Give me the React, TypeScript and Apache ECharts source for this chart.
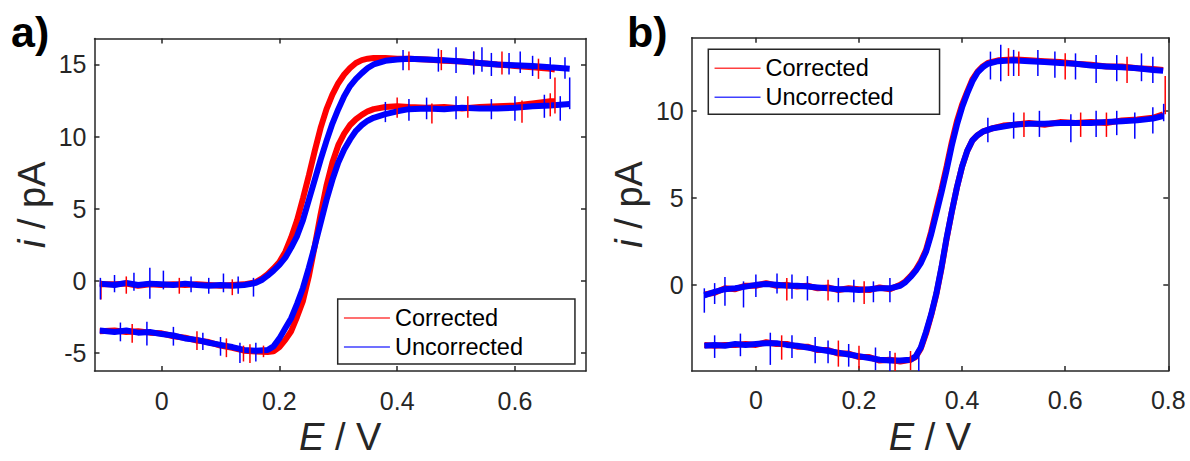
import React, { useEffect, useRef } from 'react';
import * as echarts from 'echarts';

// ---------------- Panel a ----------------
const aXTicks = [0, 0.2, 0.4, 0.6];
const aYTicks = [-5, 0, 5, 10, 15];

const aLowE = [-0.105, -0.08, -0.06, -0.04, -0.02, 0, 0.02, 0.04, 0.06, 0.08, 0.1, 0.12, 0.14, 0.16, 0.18, 0.19, 0.2, 0.21, 0.22, 0.23, 0.24, 0.25, 0.26, 0.27, 0.28, 0.29, 0.3, 0.31, 0.32, 0.33, 0.34, 0.35, 0.36, 0.38, 0.4, 0.42, 0.45, 0.48, 0.51, 0.54, 0.57, 0.6, 0.63, 0.66];
const aLowUncorrected = [-3.45, -3.55, -3.45, -3.6, -3.55, -3.7, -3.8, -4.0, -4.1, -4.3, -4.45, -4.6, -4.8, -4.85, -4.8, -4.55, -4.0, -3.3, -2.6, -1.6, -0.5, 0.9, 2.4, 4.0, 5.6, 7.0, 8.2, 9.1, 9.8, 10.4, 10.8, 11.1, 11.3, 11.55, 11.75, 11.9, 11.95, 11.9, 12.0, 11.95, 11.95, 12.0, 12.1, 12.15];
const aLowCorrected = [-3.5, -3.45, -3.55, -3.5, -3.6, -3.65, -3.85, -3.95, -4.15, -4.25, -4.5, -4.65, -4.85, -4.9, -4.95, -4.9, -4.6, -4.1, -3.5, -2.5, -1.4, 0.3, 2.4, 4.6, 6.6, 8.2, 9.4, 10.2, 10.8, 11.2, 11.5, 11.75, 11.9, 12.05, 12.1, 12.05, 12.0, 12.05, 11.95, 12.05, 12.1, 12.15, 12.3, 12.45];

const aUpE = [-0.105, -0.08, -0.06, -0.04, -0.02, 0, 0.02, 0.04, 0.06, 0.08, 0.1, 0.12, 0.14, 0.16, 0.17, 0.18, 0.19, 0.2, 0.21, 0.22, 0.23, 0.24, 0.25, 0.26, 0.27, 0.28, 0.29, 0.3, 0.31, 0.32, 0.33, 0.34, 0.35, 0.36, 0.38, 0.4, 0.42, 0.45, 0.48, 0.51, 0.54, 0.57, 0.6, 0.63, 0.66];
const aUpUncorrected = [-0.2, -0.3, -0.15, -0.3, -0.2, -0.25, -0.3, -0.2, -0.3, -0.35, -0.3, -0.35, -0.3, -0.15, 0.05, 0.35, 0.7, 1.1, 1.6, 2.3, 3.1, 4.2, 5.6, 7.0, 8.4, 9.7, 10.9, 11.9, 12.8, 13.5, 14.0, 14.4, 14.75, 15.0, 15.25, 15.35, 15.4, 15.35, 15.3, 15.2, 15.1, 15.0, 14.95, 14.9, 14.8];
const aUpCorrected = [-0.25, -0.25, -0.2, -0.35, -0.25, -0.3, -0.25, -0.3, -0.25, -0.3, -0.35, -0.3, -0.25, -0.1, 0.15, 0.45, 0.85, 1.3, 2.0, 3.0, 4.2, 5.7, 7.3, 9.0, 10.6, 11.9, 12.9, 13.7, 14.3, 14.75, 15.1, 15.3, 15.4, 15.45, 15.45, 15.4, 15.4, 15.35, 15.25, 15.2, 15.1, 15.0, 14.9, 14.8, 14.7];

// right-end points of each branch (scan turn)
const aEndUncorrected = [[0.693, 12.25], [0.693, 14.7]];
const aEndCorrected = [[0.668, 12.45], [0.668, 14.65]];

// noise spikes and turn segments: [E, low, high]
const aSpikesUncorrected = [
  [-0.104, -1.3, 0.2], [-0.08, -0.8, 0.4], [-0.047, -0.7, 0.55], [-0.02, -1.25, 0.9], [0.003, -0.6, 0.7], [0.05, -0.8, 0.3], [0.08, -0.9, 0.2], [0.105, -0.8, 0.5], [0.13, -0.9, 0.3], [0.156, -1.1, 0.2],
  [-0.07, -4.2, -2.9], [-0.025, -4.5, -2.85], [0.02, -4.5, -3.2], [0.07, -4.8, -3.6], [0.1, -5.2, -3.9], [0.133, -5.7, -4.3], [0.16, -5.6, -4.3],
  [0.41, 14.6, 16.0], [0.47, 14.5, 16.1], [0.5, 14.4, 16.2], [0.53, 14.3, 15.9], [0.544, 14.5, 16.2], [0.56, 14.2, 15.8], [0.59, 14.3, 15.8], [0.609, 14.4, 15.9], [0.63, 14.2, 15.6], [0.66, 14.0, 15.5], [0.685, 14.0, 15.5],
  [0.38, 11.0, 12.4], [0.42, 11.1, 12.6], [0.45, 11.2, 12.7], [0.5, 11.2, 12.8], [0.56, 11.2, 12.6], [0.6, 11.1, 12.8], [0.65, 11.3, 12.9], [0.677, 11.1, 12.8],
  [0.693, 11.9, 14.1],
];
const aSpikesCorrected = [
  [-0.103, -1.3, 0.0], [-0.06, -0.9, 0.3], [0.03, -0.9, 0.2], [0.12, -1.0, 0.1],
  [-0.05, -4.3, -3.0], [0.06, -4.8, -3.5], [0.11, -5.3, -4.0], [0.139, -5.6, -4.5], [0.15, -5.7, -4.4], [0.173, -5.3, -4.5],
  [0.42, 14.6, 15.9], [0.475, 14.6, 16.0], [0.53, 14.4, 15.9], [0.578, 14.3, 15.9], [0.64, 14.0, 15.4],
  [0.4, 11.3, 12.7], [0.459, 10.9, 12.3], [0.52, 11.3, 12.8], [0.612, 10.95, 12.5], [0.66, 11.4, 13.0],
  [0.668, 11.6, 14.1],
];

// ---------------- Panel b ----------------
const bXTicks = [0, 0.2, 0.4, 0.6, 0.8];
const bYTicks = [0, 5, 10];

const bLowE = [-0.1, -0.08, -0.06, -0.04, -0.02, 0, 0.02, 0.04, 0.06, 0.08, 0.1, 0.12, 0.14, 0.16, 0.18, 0.2, 0.22, 0.24, 0.26, 0.28, 0.3, 0.31, 0.32, 0.33, 0.34, 0.35, 0.36, 0.37, 0.38, 0.39, 0.4, 0.41, 0.42, 0.43, 0.44, 0.46, 0.48, 0.5, 0.53, 0.56, 0.59, 0.62, 0.65, 0.68, 0.71, 0.74, 0.77, 0.79];
const bLowUncorrected = [-3.5, -3.45, -3.5, -3.4, -3.45, -3.4, -3.35, -3.35, -3.45, -3.5, -3.6, -3.7, -3.8, -3.9, -4.0, -4.1, -4.2, -4.3, -4.35, -4.35, -4.3, -4.1, -3.6, -2.7, -1.7, -0.5, 1.0, 2.7, 4.2, 5.6, 6.8, 7.7, 8.3, 8.6, 8.8, 9.0, 9.1, 9.2, 9.25, 9.25, 9.3, 9.3, 9.3, 9.35, 9.4, 9.45, 9.55, 9.7];
const bLowCorrected = [-3.45, -3.5, -3.45, -3.45, -3.4, -3.45, -3.3, -3.4, -3.4, -3.55, -3.55, -3.75, -3.75, -3.95, -3.95, -4.15, -4.15, -4.35, -4.3, -4.4, -4.3, -4.15, -3.65, -2.8, -1.75, -0.55, 0.95, 2.65, 4.2, 5.6, 6.8, 7.7, 8.3, 8.6, 8.8, 9.0, 9.15, 9.2, 9.3, 9.2, 9.35, 9.3, 9.35, 9.3, 9.45, 9.5, 9.6, 9.8];

const bUpE = [-0.1, -0.08, -0.06, -0.04, -0.02, 0, 0.02, 0.04, 0.06, 0.08, 0.1, 0.12, 0.14, 0.16, 0.18, 0.2, 0.22, 0.24, 0.26, 0.28, 0.29, 0.3, 0.31, 0.32, 0.33, 0.34, 0.35, 0.36, 0.37, 0.38, 0.39, 0.4, 0.41, 0.42, 0.43, 0.44, 0.45, 0.47, 0.5, 0.53, 0.56, 0.59, 0.62, 0.65, 0.68, 0.71, 0.74, 0.77, 0.79];
const bUpUncorrected = [-0.6, -0.4, -0.25, -0.2, -0.1, 0.0, 0.05, 0.0, -0.05, -0.05, -0.1, -0.15, -0.2, -0.25, -0.25, -0.3, -0.25, -0.2, -0.2, -0.05, 0.15, 0.45, 0.8, 1.25, 1.9, 2.9, 4.1, 5.3, 6.6, 8.0, 9.2, 10.2, 11.0, 11.7, 12.2, 12.5, 12.7, 12.85, 12.9, 12.85, 12.8, 12.75, 12.7, 12.6, 12.55, 12.5, 12.45, 12.35, 12.3];
const bUpCorrected = [-0.55, -0.45, -0.2, -0.25, -0.05, -0.05, 0.1, -0.05, 0.0, -0.1, -0.05, -0.2, -0.15, -0.3, -0.2, -0.25, -0.3, -0.15, -0.25, 0.0, 0.2, 0.5, 0.85, 1.35, 2.0, 3.05, 4.3, 5.5, 6.8, 8.2, 9.4, 10.35, 11.1, 11.8, 12.25, 12.55, 12.75, 12.9, 12.95, 12.9, 12.85, 12.8, 12.7, 12.65, 12.55, 12.55, 12.45, 12.4, 12.35];

const bSpikesUncorrected = [
  [-0.1, -1.6, -0.2], [-0.08, -1.1, 0.1], [-0.06, -1.2, 0.45], [-0.024, -1.3, 0.2], [0.0, -0.7, 0.6], [0.041, -0.5, 0.65], [0.07, -0.8, 0.6], [0.1, -0.9, 0.5], [0.16, -1.0, 0.4], [0.19, -1.0, 0.3], [0.228, -1.0, 0.2], [0.26, -1.0, 0.4],
  [-0.08, -4.2, -2.9], [-0.03, -4.1, -2.8], [0.028, -4.6, -2.75], [0.07, -4.2, -2.9], [0.115, -4.5, -3.0], [0.14, -4.5, -3.2], [0.18, -4.7, -3.4], [0.232, -4.9, -3.6], [0.26, -4.95, -3.8], [0.316, -4.95, -3.6],
  [0.455, 11.8, 13.4], [0.475, 11.7, 13.8], [0.5, 12.0, 13.5], [0.547, 12.0, 13.5], [0.58, 11.9, 13.4], [0.62, 11.8, 13.3], [0.66, 11.6, 13.2], [0.7, 11.7, 13.2], [0.748, 11.7, 13.3], [0.77, 11.6, 13.1],
  [0.45, 8.2, 9.6], [0.5, 8.4, 9.9], [0.55, 8.5, 10.0], [0.611, 8.2, 9.8], [0.66, 8.5, 10.0], [0.7, 8.6, 10.0], [0.735, 8.4, 9.9], [0.77, 8.7, 10.2],
  [0.791, 9.4, 10.4],
];
const bSpikesCorrected = [
  [0.06, -0.9, 0.4], [0.14, -0.9, 0.3], [0.21, -1.1, 0.2],
  [0.05, -4.3, -2.9], [0.16, -4.7, -3.2], [0.2, -4.8, -3.5], [0.27, -4.95, -3.9], [0.3, -4.9, -3.8],
  [0.49, 12.0, 13.6], [0.51, 12.0, 13.4], [0.6, 11.8, 13.3], [0.72, 11.6, 13.1],
  [0.52, 8.5, 9.9], [0.63, 8.5, 9.9], [0.68, 8.5, 9.9],
  [0.794, 9.8, 12.0],
];

// ---------------- helpers ----------------
const INK = '#262626';
const FONT = '"Liberation Sans", Arial, Helvetica, sans-serif';
const RED = '#ff0000';
const BLUE = '#0000ff';

const zip = (E: number[], I: number[]) => E.map((e, k) => [e, I[k]]);

const axisLineStyle = { color: INK, width: 1.5 };

function makeX(gridIndex: number, min: number, max: number, ticks: number[], margin: number) {
  return [
    {
      type: 'value', gridIndex, min, max, position: 'bottom',
      name: '{e|E} / V', nameLocation: 'middle', nameGap: 47,
      nameTextStyle: { fontSize: 38, color: INK, fontFamily: FONT, rich: { e: { fontSize: 38, fontStyle: 'italic', color: INK, fontFamily: FONT } } },
      axisLine: { show: true, onZero: false, lineStyle: axisLineStyle },
      axisTick: { show: true, inside: true, length: 5, customValues: ticks, lineStyle: axisLineStyle },
      axisLabel: { show: true, customValues: ticks, fontSize: 25, color: INK, fontFamily: FONT, margin },
      splitLine: { show: false },
    },
    {
      type: 'value', gridIndex, min, max, position: 'top',
      axisLine: { show: true, onZero: false, lineStyle: axisLineStyle },
      axisTick: { show: true, inside: true, length: 5, customValues: ticks, lineStyle: axisLineStyle },
      axisLabel: { show: false, customValues: ticks },
      splitLine: { show: false },
    },
  ];
}

function makeY(gridIndex: number, min: number, max: number, ticks: number[]) {
  return [
    {
      type: 'value', gridIndex, min, max, position: 'left',
      name: '{i|i} / pA', nameLocation: 'middle', nameGap: 44, nameRotate: 90,
      nameTextStyle: { fontSize: 38, color: INK, fontFamily: FONT, rich: { i: { fontSize: 38, fontStyle: 'italic', color: INK, fontFamily: FONT } } },
      axisLine: { show: true, onZero: false, lineStyle: axisLineStyle },
      axisTick: { show: true, inside: true, length: 5, customValues: ticks, lineStyle: axisLineStyle },
      axisLabel: { show: true, customValues: ticks, fontSize: 25, color: INK, fontFamily: FONT, margin: 8 },
      splitLine: { show: false },
    },
    {
      type: 'value', gridIndex, min, max, position: 'right',
      axisLine: { show: true, onZero: false, lineStyle: axisLineStyle },
      axisTick: { show: true, inside: true, length: 5, customValues: ticks, lineStyle: axisLineStyle },
      axisLabel: { show: false, customValues: ticks },
      splitLine: { show: false },
    },
  ];
}

function lineSeries(name: string, color: string, data: number[][], xi: number, yi: number, z: number) {
  return {
    type: 'line', name, xAxisIndex: xi, yAxisIndex: yi, data,
    symbol: 'none', showSymbol: false, silent: true, z,
    lineStyle: { color, width: 6 }, itemStyle: { color },
  };
}

function spikeSeries(color: string, data: number[][], xi: number, yi: number, z: number) {
  return {
    type: 'custom', xAxisIndex: xi, yAxisIndex: yi, data, silent: true, z,
    encode: { x: 0, y: [1, 2] },
    renderItem: (_p: any, api: any) => {
      const a = api.coord([api.value(0), api.value(1)]);
      const b = api.coord([api.value(0), api.value(2)]);
      return { type: 'line', shape: { x1: a[0], y1: a[1], x2: b[0], y2: b[1] }, style: { stroke: color, lineWidth: 1.5 } };
    },
  };
}

function legendAt(left: number, top: number, rightPad: number) {
  return {
    data: ['Corrected', 'Uncorrected'], orient: 'vertical', left, top,
    padding: [7, rightPad, 5, 5.5], itemGap: 5, itemWidth: 46, itemHeight: 14,
    backgroundColor: '#ffffff', borderColor: INK, borderWidth: 1.5,
    textStyle: { fontSize: 23.5, color: '#000', fontFamily: FONT },
    lineStyle: { width: 1.5, opacity: 0.75 }, itemStyle: { opacity: 0 }, selectedMode: false,
  };
}

export default function App() {
  const ref = useRef<HTMLDivElement>(null);
  useEffect(() => {
    if (!ref.current) return;
    const chart = echarts.init(ref.current, undefined, { renderer: 'svg' });
    const option: any = {
      animation: false,
      backgroundColor: '#ffffff',
      textStyle: { fontFamily: FONT },
      grid: [
        { left: 94.5, top: 38.5, width: 491.5, height: 337.2 },
        { left: 691.7, top: 37.7, width: 476.6, height: 338 },
      ],
      xAxis: [...makeX(0, -0.114, 0.7207, aXTicks, 17), ...makeX(1, -0.1245, 0.8, bXTicks, 16)],
      yAxis: [...makeY(0, -6.26, 16.8, aYTicks), ...makeY(1, -4.95, 14.2, bYTicks)],
      legend: [legendAt(337.7, 299, 52), legendAt(708.3, 49.3, 46)],
      graphic: [
        { type: 'text', left: 11, top: 10, style: { text: 'a)', font: `bold 43px ${FONT}`, fill: '#000' } },
        { type: 'text', left: 627, top: 10, style: { text: 'b)', font: `bold 43px ${FONT}`, fill: '#000' } },
      ],
      series: [
        lineSeries('Corrected', RED, zip(aLowE, aLowCorrected).concat([aEndCorrected[0]]), 0, 0, 2),
        lineSeries('Corrected', RED, zip(aUpE, aUpCorrected).concat([aEndCorrected[1]]), 0, 0, 2),
        lineSeries('Uncorrected', BLUE, zip(aLowE, aLowUncorrected).concat([aEndUncorrected[0]]), 0, 0, 3),
        lineSeries('Uncorrected', BLUE, zip(aUpE, aUpUncorrected).concat([aEndUncorrected[1]]), 0, 0, 3),
        spikeSeries(RED, aSpikesCorrected, 0, 0, 4),
        spikeSeries(BLUE, aSpikesUncorrected, 0, 0, 5),
        lineSeries('Corrected', RED, zip(bLowE, bLowCorrected), 2, 2, 2),
        lineSeries('Corrected', RED, zip(bUpE, bUpCorrected), 2, 2, 2),
        lineSeries('Uncorrected', BLUE, zip(bLowE, bLowUncorrected), 2, 2, 3),
        lineSeries('Uncorrected', BLUE, zip(bUpE, bUpUncorrected), 2, 2, 3),
        spikeSeries(RED, bSpikesCorrected, 2, 2, 4),
        spikeSeries(BLUE, bSpikesUncorrected, 2, 2, 5),
      ],
    };
    chart.setOption(option);
    return () => chart.dispose();
  }, []);
  return <div ref={ref} style={{ position: 'absolute', left: 0, top: 0, width: 1190, height: 461 }} />;
}
